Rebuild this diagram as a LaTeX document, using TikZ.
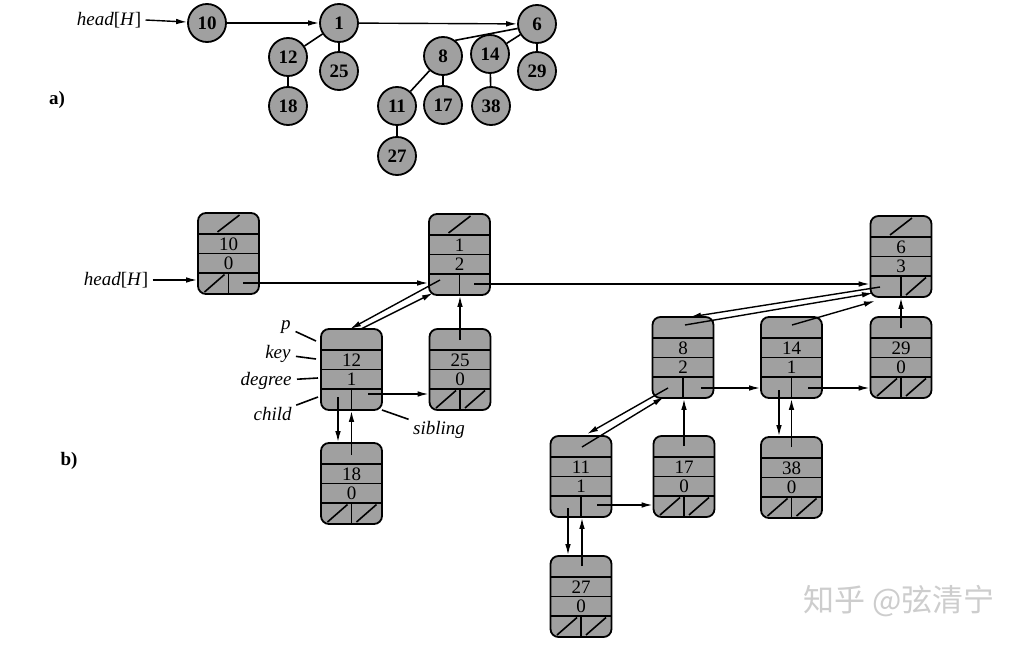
\documentclass[tikz,border=0pt]{standalone}
\usepackage{fontspec}
\setmainfont{Liberation Serif}
\newfontfamily\cjk{Noto Sans CJK SC}
\usetikzlibrary{arrows.meta,calc}
\definecolor{boxgray}{RGB}{160,160,160}
\definecolor{wmgray}{RGB}{205,205,205}
\tikzset{
  cnode/.style={circle, draw, line width=0.9pt, fill=boxgray, minimum size=19pt, inner sep=0pt,
    font=\fontsize{9.5}{10}\selectfont\bfseries},
  hbox/.style={draw, line width=0.9pt, fill=boxgray, rounded corners=4pt,
    minimum width=30.5pt, minimum height=40.5pt, inner sep=0pt},
  rowline/.style={line width=0.8pt},
  nilline/.style={line width=0.8pt},
  ptr/.style={line width=0.7pt, -{Latex[length=5.5pt,width=2.8pt]}},
  treeedge/.style={line width=0.8pt},
  keytxt/.style={inner sep=0pt, font=\fontsize{9.5}{10}\selectfont},
  lbl/.style={inner sep=0pt, font=\fontsize{9.5}{10}\selectfont\itshape},
  plain/.style={inner sep=0pt, font=\fontsize{9.5}{10}\selectfont},
  partlbl/.style={inner sep=0pt, font=\fontsize{9.5}{10}\selectfont\bfseries},
}
% heap node box: name, centre x, top y, key, degree
\newcommand{\hb}[5]{%
  \node[hbox] (#1) at (#2,#3+40.5) {};
  \draw[rowline] (#2-30.5,#3+21) -- (#2+30.5,#3+21);
  \draw[rowline] (#2-30.5,#3+40.5) -- (#2+30.5,#3+40.5);
  \draw[rowline] (#2-30.5,#3+60) -- (#2+30.5,#3+60);
  \draw[rowline] (#2,#3+60) -- (#2,#3+81);
  \node[keytxt] (#1key) at (#2,#3+31) {#4};
  \node[keytxt] (#1deg) at (#2,#3+50.5) {#5};
}
\newcommand{\pnil}[2]{\draw[nilline] (#1-11,#2+19) -- (#1+11,#2+2);}
\newcommand{\cnil}[2]{\draw[nilline] (#1-24,#2+79) -- (#1-4,#2+61.5);}
\newcommand{\snil}[2]{\draw[nilline] (#1+5,#2+79) -- (#1+25,#2+61.5);}
\begin{document}
\begin{tikzpicture}[x=0.5pt,y=-0.5pt]
\fill[white] (0,0) rectangle (1018,648);
\useasboundingbox (0,0) rectangle (1018,648);

% ---------------- part a ----------------
\node[partlbl] (la) at (57,100) {a)};
\node[plain] (heada) at (109,20) {\textit{head}[\textit{H}]};
\node[cnode] (a10) at (207,23) {10};
\node[cnode] (a1) at (339,23) {1};
\node[cnode] (a6) at (537,24) {6};
\node[cnode] (a12) at (288,57) {12};
\node[cnode] (a25) at (339,71) {25};
\node[cnode] (a18) at (288,106) {18};
\node[cnode] (a8) at (443,56) {8};
\node[cnode] (a14) at (490,54) {14};
\node[cnode] (a29) at (537,71) {29};
\node[cnode] (a11) at (397,106) {11};
\node[cnode] (a17) at (443,105) {17};
\node[cnode] (a38) at (491,106) {38};
\node[cnode] (a27) at (397,156) {27};
\draw[ptr] ([xshift=2pt]heada.east) -- (a10);
\draw[ptr] (a10) -- (a1);
\draw[ptr] (a1) -- (a6);
\draw[treeedge] (a1) -- (a12);
\draw[treeedge] (a1) -- (a25);
\draw[treeedge] (a12) -- (a18);
\draw[treeedge] (a8.52) -- (a6.193);
\draw[treeedge] (a6) -- (a14);
\draw[treeedge] (a6) -- (a29);
\draw[treeedge] (a8) -- (a11);
\draw[treeedge] (a8) -- (a17);
\draw[treeedge] (a14) -- (a38);
\draw[treeedge] (a11) -- (a27);

% ---------------- part b ----------------
\node[partlbl] (lb) at (69,461) {b)};
\hb{b10}{228.5}{213}{10}{0} \pnil{228.5}{213} \cnil{228.5}{213}
\hb{b1}{459.5}{214}{1}{2} \pnil{459.5}{214}
\hb{b6}{901}{216}{6}{3} \pnil{901}{216} \snil{901}{216}
\hb{b12}{351.5}{329}{12}{1}
\hb{b25}{460}{329}{25}{0} \cnil{460}{329} \snil{460}{329}
\hb{b18}{351.5}{443}{18}{0} \cnil{351.5}{443} \snil{351.5}{443}
\hb{b8}{683}{317}{8}{2}
\hb{b14}{791.5}{317}{14}{1}
\hb{b29}{901}{317}{29}{0} \cnil{901}{317} \snil{901}{317}
\hb{b11}{581}{436}{11}{1}
\hb{b17}{684}{436}{17}{0} \cnil{684}{436} \snil{684}{436}
\hb{b38}{791.5}{437}{38}{0} \cnil{791.5}{437} \snil{791.5}{437}
\hb{b27}{581}{556}{27}{0} \cnil{581}{556} \snil{581}{556}

\node[plain] (headb) at (116,280) {\textit{head}[\textit{H}]};
\draw[ptr] ([xshift=2pt]headb.east) -- (b10.west |- headb.east);

% sibling pointers
\coordinate (s10) at (243,283); \draw[ptr] (s10) -- (b1.west |- s10);
\coordinate (s1) at (474,284);  \draw[ptr] (s1) -- (b6.west |- s1);
\coordinate (s12) at (368,394); \draw[ptr] (s12) -- (b25.west |- s12);
\coordinate (s8) at (701,388);  \draw[ptr] (s8) -- (b14.west |- s8);
\coordinate (s14) at (808,388); \draw[ptr] (s14) -- (b29.west |- s14);
\coordinate (s11) at (597,505); \draw[ptr] (s11) -- (b17.west |- s11);

% child / parent pairs (diagonal)
\coordinate (c1) at (440,280);  \coordinate (t12) at (350,329); \draw[ptr] (c1) -- (t12);
\coordinate (p12) at (361,329); \coordinate (e1) at (433,293);  \draw[ptr] (p12) -- (e1);
\coordinate (c6) at (880,287);  \coordinate (t8) at (690,317);  \draw[ptr] (c6) -- (t8);
\coordinate (p8) at (685,325);  \coordinate (e6a) at (873,293); \draw[ptr] (p8) -- (e6a);
\coordinate (p14) at (792,325); \coordinate (e6b) at (875,301); \draw[ptr] (p14) -- (e6b);
\coordinate (c8) at (668,388);  \coordinate (t11) at (587,434); \draw[ptr] (c8) -- (t11);
\coordinate (p11) at (582,447); \coordinate (e8) at (664,397);  \draw[ptr] (p11) -- (e8);

% child / parent pairs (vertical)
\coordinate (c12) at (338,397); \draw[ptr] (c12) -- (c12 |- b18.north);
\coordinate (p18) at (351.5,455); \draw[ptr] (p18) -- (p18 |- b12.south);
\coordinate (c14) at (779,390); \draw[ptr] (c14) -- (c14 |- b38.north);
\coordinate (p38) at (791.5,447); \draw[ptr] (p38) -- (p38 |- b14.south);
\coordinate (c11) at (568,508); \draw[ptr] (c11) -- (c11 |- b27.north);
\coordinate (p27) at (582,566); \draw[ptr] (p27) -- (p27 |- b11.south);

% parent pointers of later children
\coordinate (p25) at (460,340); \draw[ptr] (p25) -- (p25 |- b1.south);
\coordinate (p29) at (901,328); \draw[ptr] (p29) -- (p29 |- b6.south);
\coordinate (p17) at (684,446); \draw[ptr] (p17) -- (p17 |- b8.south);

% field labels
\node[lbl, anchor=east] (lp) at (291,327) {p};
\node[lbl, anchor=east] (lkey) at (291,354) {key};
\node[lbl, anchor=east] (ldeg) at (292,381) {degree};
\node[lbl, anchor=east] (lchild) at (292,414) {child};
\node[lbl] (lsib) at (439,430) {sibling};
\coordinate (fp) at (316,341);
\coordinate (fkey) at (316,359);
\coordinate (fdeg) at (318,378);
\coordinate (fchild) at (318,397);
\coordinate (fsib) at (382,410);
\draw[treeedge, shorten <=2.5pt] (lp) -- (fp);
\draw[treeedge, shorten <=2.5pt] (lkey) -- (fkey);
\draw[treeedge, shorten <=2.5pt] (ldeg) -- (fdeg);
\draw[treeedge, shorten <=2.5pt] (lchild) -- (fchild);
\draw[treeedge, shorten <=2.5pt] (lsib) -- (fsib);

% watermark
\node[inner sep=0pt, text=wmgray, font=\cjk\fontsize{15.5}{16}\selectfont] (wm) at (899,601) {知乎 @弦清宁};
\end{tikzpicture}
\end{document}
